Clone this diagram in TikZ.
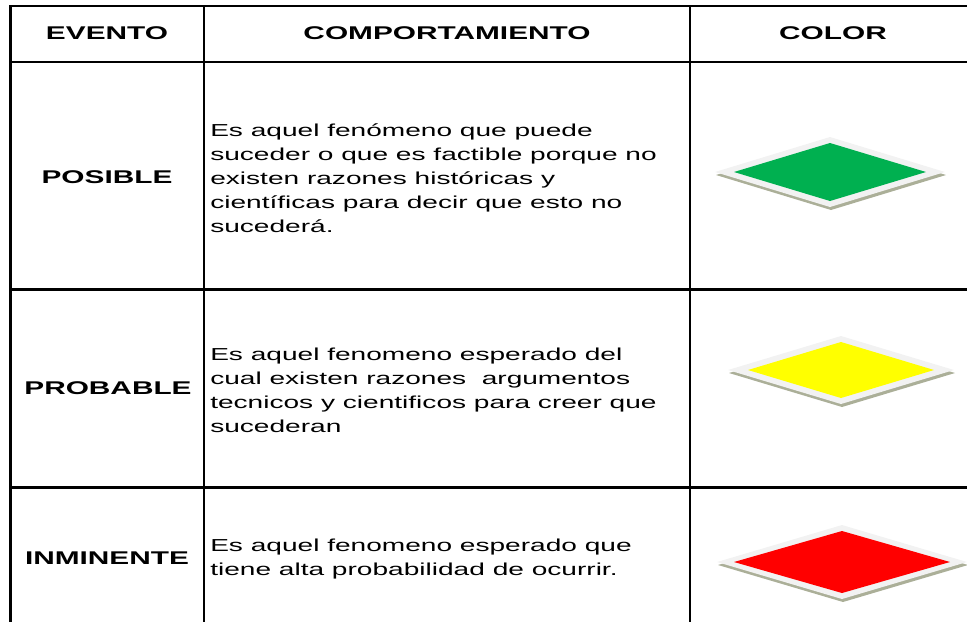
\documentclass[tikz,border=0pt]{standalone}
\usepackage{fontspec}
\setmainfont{Liberation Sans}[FakeStretch=1.62]
\usetikzlibrary{calc}
\definecolor{verde}{HTML}{00B050}
\definecolor{amarillo}{HTML}{FFFF00}
\definecolor{rojo}{HTML}{FF0000}
\definecolor{borde}{HTML}{F2F2F2}
\definecolor{sombra}{HTML}{ABAF98}
\tikzstyle{titulo} = [font=\fontsize{13.8}{16}\selectfont\bfseries, inner sep=0pt]
\tikzstyle{texto} = [font=\fontsize{13}{18}\selectfont, align=left, anchor=west, inner sep=0pt]
\tikzstyle{rejilla} = [line width=1.6pt, draw=black]

\begin{document}
\begin{tikzpicture}[x=0.75pt, y=-0.75pt]

        \useasboundingbox (0,0) rectangle (967,622);
        \clip (0,0) rectangle (967,622);

        % rejilla de la tabla
        \draw[rejilla] (10.5,6) -- (967,6);
        \draw[rejilla] (10.5,62) -- (967,62);
        \draw[rejilla] (10.5,289.5) -- (967,289.5);
        \draw[rejilla] (10.5,487.5) -- (967,487.5);
        \draw[rejilla] (204,6) -- (204,622);
        \draw[rejilla] (690,6) -- (690,622);
        \draw[rejilla, line width=2.4pt] (10.5,5) -- (10.5,622);

        % encabezados
        \node (H1) [titulo] at (107,33) {EVENTO};
        \node (H2) [titulo] at (447,33) {COMPORTAMIENTO};
        \node (H3) [titulo] at (833,33) {COLOR};

        % eventos
        \node (E1) [titulo] at (107,177) {POSIBLE};
        \node (E2) [titulo] at (108,388) {PROBABLE};
        \node (E3) [titulo] at (107,558) {INMINENTE};

        % comportamientos
        \node (C1) [texto] at (210,178) {Es aquel fenómeno que puede\\
            suceder o que es factible porque no\\
            existen razones históricas y\\
            científicas para decir que esto no\\
            sucederá.};
        \node (C2) [texto] at (210,390) {Es aquel fenomeno esperado del\\
            cual existen razones\ \ argumentos\\
            tecnicos y cientificos para creer que\\
            sucederan};
        \node (C3) [texto] at (210,559) {Es aquel fenomeno esperado que\\
            tiene alta probabilidad de ocurrir.};

        % rombos de color
        \fill[sombra] (716,175) -- (831,140) -- (946,175) -- (831,210) -- cycle;
        \fill[borde] (715,172) -- (830,137) -- (945,172) -- (830,207) -- cycle;
        \fill[verde] (734,172) -- (830,143) -- (926,172) -- (830,201) -- cycle;

        \fill[sombra] (729,373) -- (842,339) -- (955,373) -- (842,407) -- cycle;
        \fill[borde] (728,370) -- (841,336) -- (954,370) -- (841,404) -- cycle;
        \fill[amarillo] (748,370) -- (841,342) -- (934,370) -- (841,398) -- cycle;

        \fill[sombra] (718,565) -- (843,528) -- (968,565) -- (843,602) -- cycle;
        \fill[borde] (717,562) -- (842,525) -- (967,562) -- (842,599) -- cycle;
        \fill[rojo] (734,562) -- (842,531) -- (950,562) -- (842,593) -- cycle;

    \end{tikzpicture}
\end{document}
